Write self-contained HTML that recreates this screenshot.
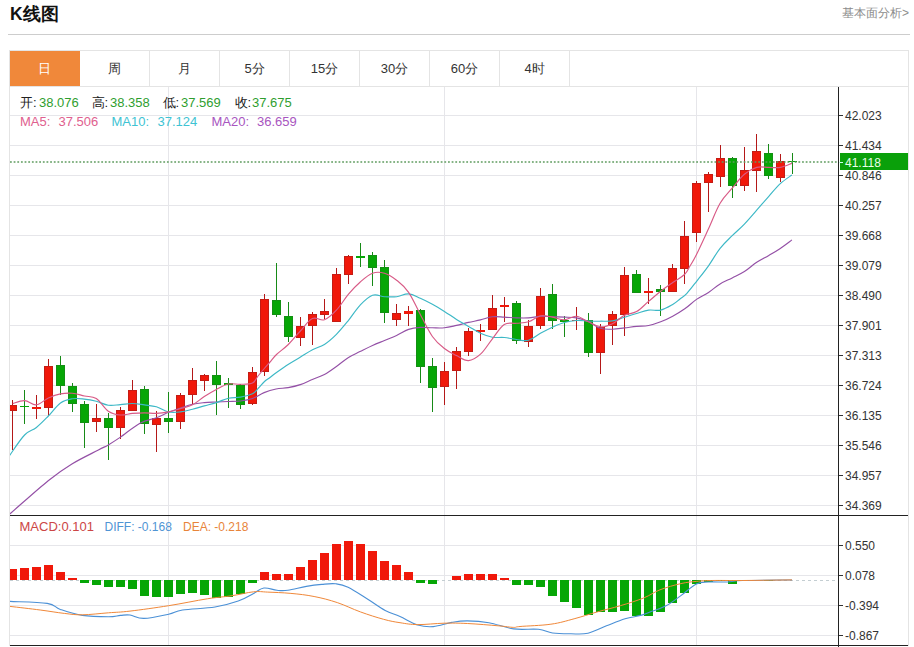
<!DOCTYPE html>
<html><head><meta charset="utf-8"><style>
html,body{margin:0;padding:0;background:#fff;width:914px;height:647px;overflow:hidden;font-family:"Liberation Sans",sans-serif;}
.title{position:absolute;left:10px;top:2px;font-size:17.5px;font-weight:bold;color:#111;line-height:24px;white-space:nowrap;}
.more{position:absolute;left:842px;top:4.5px;font-size:12px;color:#8c8c8c;line-height:16px;white-space:nowrap;}
.hr{position:absolute;left:8px;top:34px;width:902px;height:1px;background:#cdcdcd;}
.tabs{position:absolute;left:9px;top:50px;width:900px;height:36px;border-top:1px solid #e4e4e4;border-left:1px solid #e4e4e4;border-right:1px solid #e4e4e4;box-sizing:border-box;}
.tab{position:absolute;top:0;height:35px;width:70px;text-align:center;line-height:35px;font-size:13px;color:#333;border-right:1px solid #e4e4e4;box-sizing:border-box;}
.tab.on{background:#f0883a;color:#fff;border-right:1px solid #f0883a;}
svg{position:absolute;left:0;top:0;}
.g{stroke:#e6e6ea;stroke-width:1;}
.ax{font-size:12px;fill:#333;font-family:"Liberation Sans",sans-serif;}
.t{position:absolute;line-height:16px;white-space:nowrap;}
</style></head><body>
<div class="title">K线图</div>
<div class="more">基本面分析&gt;</div>
<div class="hr"></div>
<div class="tabs"><div class="tab on" style="left:0px">日</div><div class="tab" style="left:70px">周</div><div class="tab" style="left:140px">月</div><div class="tab" style="left:210px">5分</div><div class="tab" style="left:280px">15分</div><div class="tab" style="left:350px">30分</div><div class="tab" style="left:420px">60分</div><div class="tab" style="left:490px">4时</div></div>
<svg width="914" height="647" viewBox="0 0 914 647" shape-rendering="crispEdges">
<rect x="9.5" y="86.5" width="899" height="559" fill="none" stroke="#e4e4e4"/>
<g clip-path="url(#clip)">
<clipPath id="clip"><rect x="10" y="87" width="828" height="558"/></clipPath>
<line x1="10" y1="115.5" x2="838" y2="115.5" class="g"/>
<line x1="10" y1="145.5" x2="838" y2="145.5" class="g"/>
<line x1="10" y1="175.5" x2="838" y2="175.5" class="g"/>
<line x1="10" y1="205.5" x2="838" y2="205.5" class="g"/>
<line x1="10" y1="235.5" x2="838" y2="235.5" class="g"/>
<line x1="10" y1="265.5" x2="838" y2="265.5" class="g"/>
<line x1="10" y1="295.5" x2="838" y2="295.5" class="g"/>
<line x1="10" y1="325.5" x2="838" y2="325.5" class="g"/>
<line x1="10" y1="355.5" x2="838" y2="355.5" class="g"/>
<line x1="10" y1="385.5" x2="838" y2="385.5" class="g"/>
<line x1="10" y1="415.5" x2="838" y2="415.5" class="g"/>
<line x1="10" y1="445.5" x2="838" y2="445.5" class="g"/>
<line x1="10" y1="475.5" x2="838" y2="475.5" class="g"/>
<line x1="10" y1="505.5" x2="838" y2="505.5" class="g"/>
<line x1="10" y1="545.5" x2="838" y2="545.5" class="g"/>
<line x1="10" y1="575.5" x2="838" y2="575.5" class="g"/>
<line x1="10" y1="605.5" x2="838" y2="605.5" class="g"/>
<line x1="10" y1="635.5" x2="838" y2="635.5" class="g"/>
<line x1="168.5" y1="87" x2="168.5" y2="515" class="g"/>
<line x1="168.5" y1="516" x2="168.5" y2="645" class="g"/>
<line x1="444.5" y1="87" x2="444.5" y2="515" class="g"/>
<line x1="444.5" y1="516" x2="444.5" y2="645" class="g"/>
<line x1="696.5" y1="87" x2="696.5" y2="515" class="g"/>
<line x1="696.5" y1="516" x2="696.5" y2="645" class="g"/>
<rect x="12.0" y="400.2" width="1" height="50.1" fill="#b41818"/>
<rect x="8.5" y="405.3" width="8" height="5.5" fill="#f0180a" stroke="#c41c14" stroke-width="1"/>
<rect x="24.0" y="390.4" width="1" height="33.8" fill="#178a17"/>
<rect x="20.0" y="405.7" width="9" height="1.7" fill="#06a606"/>
<rect x="36.0" y="395.3" width="1" height="23.4" fill="#b41818"/>
<rect x="32.0" y="407.1" width="9" height="1.7" fill="#f0180a"/>
<rect x="48.0" y="359.2" width="1" height="56.3" fill="#b41818"/>
<rect x="44.5" y="366.5" width="8" height="41.4" fill="#f0180a" stroke="#c41c14" stroke-width="1"/>
<rect x="60.0" y="356.0" width="1" height="39.3" fill="#178a17"/>
<rect x="56.5" y="365.6" width="8" height="19.8" fill="#06a606" stroke="#139013" stroke-width="1"/>
<rect x="72.0" y="382.8" width="1" height="29.2" fill="#178a17"/>
<rect x="68.5" y="386.1" width="8" height="17.1" fill="#06a606" stroke="#139013" stroke-width="1"/>
<rect x="84.0" y="401.0" width="1" height="46.5" fill="#178a17"/>
<rect x="80.5" y="404.5" width="8" height="18.4" fill="#06a606" stroke="#139013" stroke-width="1"/>
<rect x="96.0" y="404.3" width="1" height="27.7" fill="#b41818"/>
<rect x="92.5" y="418.3" width="8" height="3.6" fill="#f0180a" stroke="#c41c14" stroke-width="1"/>
<rect x="108.0" y="413.0" width="1" height="46.5" fill="#178a17"/>
<rect x="104.5" y="418.5" width="8" height="9.4" fill="#06a606" stroke="#139013" stroke-width="1"/>
<rect x="120.0" y="406.6" width="1" height="32.4" fill="#b41818"/>
<rect x="116.5" y="410.4" width="8" height="17.0" fill="#f0180a" stroke="#c41c14" stroke-width="1"/>
<rect x="132.0" y="380.2" width="1" height="30.4" fill="#b41818"/>
<rect x="128.5" y="390.4" width="8" height="19.7" fill="#f0180a" stroke="#c41c14" stroke-width="1"/>
<rect x="144.0" y="386.2" width="1" height="47.3" fill="#178a17"/>
<rect x="140.5" y="389.5" width="8" height="33.6" fill="#06a606" stroke="#139013" stroke-width="1"/>
<rect x="156.0" y="411.2" width="1" height="40.8" fill="#b41818"/>
<rect x="152.5" y="418.5" width="8" height="5.7" fill="#f0180a" stroke="#c41c14" stroke-width="1"/>
<rect x="168.0" y="392.3" width="1" height="40.2" fill="#178a17"/>
<rect x="164.5" y="418.5" width="8" height="3.3" fill="#06a606" stroke="#139013" stroke-width="1"/>
<rect x="180.0" y="393.2" width="1" height="36.2" fill="#b41818"/>
<rect x="176.5" y="395.5" width="8" height="26.0" fill="#f0180a" stroke="#c41c14" stroke-width="1"/>
<rect x="192.0" y="368.0" width="1" height="35.8" fill="#b41818"/>
<rect x="188.5" y="380.7" width="8" height="14.2" fill="#f0180a" stroke="#c41c14" stroke-width="1"/>
<rect x="204.0" y="374.1" width="1" height="16.7" fill="#b41818"/>
<rect x="200.5" y="375.9" width="8" height="4.8" fill="#f0180a" stroke="#c41c14" stroke-width="1"/>
<rect x="216.0" y="361.0" width="1" height="54.0" fill="#178a17"/>
<rect x="212.5" y="375.5" width="8" height="8.7" fill="#06a606" stroke="#139013" stroke-width="1"/>
<rect x="228.0" y="377.8" width="1" height="29.7" fill="#178a17"/>
<rect x="224.0" y="383.0" width="9" height="2.2" fill="#06a606"/>
<rect x="240.0" y="384.0" width="1" height="24.6" fill="#178a17"/>
<rect x="236.5" y="385.9" width="8" height="18.3" fill="#06a606" stroke="#139013" stroke-width="1"/>
<rect x="252.0" y="366.5" width="1" height="38.6" fill="#b41818"/>
<rect x="248.5" y="372.2" width="8" height="31.0" fill="#f0180a" stroke="#c41c14" stroke-width="1"/>
<rect x="264.0" y="293.8" width="1" height="82.1" fill="#b41818"/>
<rect x="260.5" y="299.5" width="8" height="71.5" fill="#f0180a" stroke="#c41c14" stroke-width="1"/>
<rect x="276.0" y="263.2" width="1" height="53.3" fill="#178a17"/>
<rect x="272.5" y="300.6" width="8" height="14.3" fill="#06a606" stroke="#139013" stroke-width="1"/>
<rect x="288.0" y="301.8" width="1" height="40.0" fill="#178a17"/>
<rect x="284.5" y="316.5" width="8" height="20.2" fill="#06a606" stroke="#139013" stroke-width="1"/>
<rect x="300.0" y="316.5" width="1" height="29.5" fill="#b41818"/>
<rect x="296.5" y="326.7" width="8" height="10.5" fill="#f0180a" stroke="#c41c14" stroke-width="1"/>
<rect x="312.0" y="312.4" width="1" height="32.2" fill="#b41818"/>
<rect x="308.5" y="314.9" width="8" height="10.4" fill="#f0180a" stroke="#c41c14" stroke-width="1"/>
<rect x="324.0" y="298.7" width="1" height="19.8" fill="#b41818"/>
<rect x="320.5" y="311.3" width="8" height="3.6" fill="#f0180a" stroke="#c41c14" stroke-width="1"/>
<rect x="336.0" y="267.5" width="1" height="54.9" fill="#b41818"/>
<rect x="332.5" y="274.5" width="8" height="47.4" fill="#f0180a" stroke="#c41c14" stroke-width="1"/>
<rect x="348.0" y="254.5" width="1" height="29.0" fill="#b41818"/>
<rect x="344.5" y="256.1" width="8" height="18.4" fill="#f0180a" stroke="#c41c14" stroke-width="1"/>
<rect x="360.0" y="243.3" width="1" height="24.0" fill="#178a17"/>
<rect x="356.0" y="255.6" width="9" height="1.9" fill="#06a606"/>
<rect x="372.0" y="252.4" width="1" height="33.1" fill="#178a17"/>
<rect x="368.5" y="255.7" width="8" height="11.9" fill="#06a606" stroke="#139013" stroke-width="1"/>
<rect x="384.0" y="260.0" width="1" height="63.0" fill="#178a17"/>
<rect x="380.5" y="267.5" width="8" height="44.6" fill="#06a606" stroke="#139013" stroke-width="1"/>
<rect x="396.0" y="304.3" width="1" height="21.5" fill="#b41818"/>
<rect x="392.5" y="313.8" width="8" height="5.3" fill="#f0180a" stroke="#c41c14" stroke-width="1"/>
<rect x="408.0" y="306.3" width="1" height="19.4" fill="#b41818"/>
<rect x="404.0" y="311.1" width="9" height="2.5" fill="#f0180a"/>
<rect x="420.0" y="308.6" width="1" height="74.2" fill="#178a17"/>
<rect x="416.5" y="310.5" width="8" height="55.6" fill="#06a606" stroke="#139013" stroke-width="1"/>
<rect x="432.0" y="358.2" width="1" height="53.8" fill="#178a17"/>
<rect x="428.5" y="366.6" width="8" height="20.6" fill="#06a606" stroke="#139013" stroke-width="1"/>
<rect x="444.0" y="362.4" width="1" height="42.2" fill="#b41818"/>
<rect x="440.5" y="371.5" width="8" height="15.0" fill="#f0180a" stroke="#c41c14" stroke-width="1"/>
<rect x="456.0" y="347.3" width="1" height="41.3" fill="#b41818"/>
<rect x="452.5" y="351.7" width="8" height="18.4" fill="#f0180a" stroke="#c41c14" stroke-width="1"/>
<rect x="468.0" y="327.8" width="1" height="27.8" fill="#b41818"/>
<rect x="464.5" y="331.8" width="8" height="20.0" fill="#f0180a" stroke="#c41c14" stroke-width="1"/>
<rect x="480.0" y="324.2" width="1" height="16.3" fill="#b41818"/>
<rect x="476.0" y="329.8" width="9" height="2.0" fill="#f0180a"/>
<rect x="492.0" y="295.0" width="1" height="34.7" fill="#b41818"/>
<rect x="488.5" y="308.3" width="8" height="20.9" fill="#f0180a" stroke="#c41c14" stroke-width="1"/>
<rect x="504.0" y="296.7" width="1" height="24.8" fill="#b41818"/>
<rect x="500.0" y="304.8" width="9" height="2.3" fill="#f0180a"/>
<rect x="516.0" y="300.9" width="1" height="42.8" fill="#178a17"/>
<rect x="512.5" y="303.2" width="8" height="37.5" fill="#06a606" stroke="#139013" stroke-width="1"/>
<rect x="528.0" y="320.3" width="1" height="26.2" fill="#b41818"/>
<rect x="524.5" y="326.4" width="8" height="15.0" fill="#f0180a" stroke="#c41c14" stroke-width="1"/>
<rect x="540.0" y="288.3" width="1" height="40.4" fill="#b41818"/>
<rect x="536.5" y="296.2" width="8" height="29.6" fill="#f0180a" stroke="#c41c14" stroke-width="1"/>
<rect x="552.0" y="283.5" width="1" height="45.2" fill="#178a17"/>
<rect x="548.5" y="294.4" width="8" height="26.1" fill="#06a606" stroke="#139013" stroke-width="1"/>
<rect x="564.0" y="316.2" width="1" height="20.6" fill="#178a17"/>
<rect x="560.0" y="320.0" width="9" height="1.7" fill="#06a606"/>
<rect x="576.0" y="307.1" width="1" height="23.3" fill="#b41818"/>
<rect x="572.0" y="319.7" width="9" height="1.5" fill="#f0180a"/>
<rect x="588.0" y="313.4" width="1" height="43.8" fill="#178a17"/>
<rect x="584.5" y="320.8" width="8" height="31.3" fill="#06a606" stroke="#139013" stroke-width="1"/>
<rect x="600.0" y="324.1" width="1" height="49.4" fill="#b41818"/>
<rect x="596.5" y="327.4" width="8" height="25.0" fill="#f0180a" stroke="#c41c14" stroke-width="1"/>
<rect x="612.0" y="310.6" width="1" height="33.9" fill="#b41818"/>
<rect x="608.5" y="314.6" width="8" height="10.4" fill="#f0180a" stroke="#c41c14" stroke-width="1"/>
<rect x="624.0" y="267.2" width="1" height="68.5" fill="#b41818"/>
<rect x="620.5" y="275.7" width="8" height="38.9" fill="#f0180a" stroke="#c41c14" stroke-width="1"/>
<rect x="636.0" y="270.0" width="1" height="22.8" fill="#178a17"/>
<rect x="632.5" y="274.3" width="8" height="18.0" fill="#06a606" stroke="#139013" stroke-width="1"/>
<rect x="648.0" y="278.0" width="1" height="25.7" fill="#b41818"/>
<rect x="644.0" y="290.5" width="9" height="2.8" fill="#f0180a"/>
<rect x="660.0" y="285.3" width="1" height="30.9" fill="#178a17"/>
<rect x="656.5" y="289.3" width="8" height="2.1" fill="#06a606" stroke="#139013" stroke-width="1"/>
<rect x="672.0" y="264.0" width="1" height="27.9" fill="#b41818"/>
<rect x="668.5" y="268.7" width="8" height="22.7" fill="#f0180a" stroke="#c41c14" stroke-width="1"/>
<rect x="684.0" y="220.9" width="1" height="63.3" fill="#b41818"/>
<rect x="680.5" y="236.0" width="8" height="32.8" fill="#f0180a" stroke="#c41c14" stroke-width="1"/>
<rect x="696.0" y="181.3" width="1" height="61.1" fill="#b41818"/>
<rect x="692.5" y="183.7" width="8" height="48.5" fill="#f0180a" stroke="#c41c14" stroke-width="1"/>
<rect x="708.0" y="172.0" width="1" height="40.0" fill="#b41818"/>
<rect x="704.5" y="174.9" width="8" height="8.0" fill="#f0180a" stroke="#c41c14" stroke-width="1"/>
<rect x="720.0" y="144.5" width="1" height="42.4" fill="#b41818"/>
<rect x="716.5" y="158.6" width="8" height="17.7" fill="#f0180a" stroke="#c41c14" stroke-width="1"/>
<rect x="732.0" y="157.0" width="1" height="41.4" fill="#178a17"/>
<rect x="728.5" y="158.9" width="8" height="26.4" fill="#06a606" stroke="#139013" stroke-width="1"/>
<rect x="744.0" y="147.0" width="1" height="44.1" fill="#b41818"/>
<rect x="740.5" y="170.3" width="8" height="14.7" fill="#f0180a" stroke="#c41c14" stroke-width="1"/>
<rect x="756.0" y="134.0" width="1" height="57.8" fill="#b41818"/>
<rect x="752.5" y="151.3" width="8" height="18.8" fill="#f0180a" stroke="#c41c14" stroke-width="1"/>
<rect x="768.0" y="143.8" width="1" height="35.2" fill="#178a17"/>
<rect x="764.5" y="153.0" width="8" height="22.3" fill="#06a606" stroke="#139013" stroke-width="1"/>
<rect x="780.0" y="153.5" width="1" height="28.8" fill="#b41818"/>
<rect x="776.5" y="161.0" width="8" height="16.4" fill="#f0180a" stroke="#c41c14" stroke-width="1"/>
<rect x="792.0" y="153.1" width="1" height="20.6" fill="#178a17"/>
<rect x="788.0" y="160.9" width="9" height="1.5" fill="#06a606"/>
<path d="M0.00,522.00 C1.80,520.52 1.32,521.23 10.00,513.80 C18.68,506.37 37.06,489.66 48.20,480.70 C59.34,471.74 62.86,469.53 71.90,464.00 C80.94,458.47 91.85,453.44 98.40,450.00 C104.95,446.56 104.39,447.17 108.30,444.90 C112.21,442.63 114.39,441.31 120.10,437.40 C125.81,433.49 133.47,426.75 140.00,423.20 C146.53,419.65 151.27,419.66 156.40,417.70 C161.53,415.74 164.16,414.05 168.50,412.30 C172.84,410.55 176.18,409.46 180.50,408.00 C184.82,406.54 188.22,405.17 192.50,404.20 C196.78,403.23 200.02,403.00 204.30,402.60 C208.58,402.20 211.96,402.20 216.30,402.00 C220.64,401.80 224.06,401.68 228.40,401.50 C232.74,401.32 236.06,401.54 240.40,401.00 C244.74,400.46 248.23,400.01 252.50,398.50 C256.77,396.99 259.85,394.31 264.10,392.60 C268.35,390.89 271.76,389.90 276.10,389.00 C280.44,388.10 283.84,388.39 288.20,387.60 C292.56,386.81 295.96,386.06 300.30,384.60 C304.64,383.14 307.96,381.32 312.30,379.50 C316.64,377.68 320.06,376.84 324.40,374.50 C328.74,372.16 332.06,369.58 336.40,366.50 C340.74,363.42 344.25,360.08 348.50,357.40 C352.75,354.72 355.68,353.74 360.00,351.60 C364.32,349.46 368.09,347.50 372.50,345.50 C376.91,343.50 380.16,342.30 384.50,340.50 C388.84,338.70 392.26,337.50 396.60,335.50 C400.94,333.50 404.33,330.86 408.60,329.40 C412.87,327.94 416.02,327.69 420.30,327.40 C424.58,327.11 428.06,327.73 432.40,327.80 C436.74,327.87 440.06,328.23 444.40,327.80 C448.74,327.37 452.16,326.37 456.50,325.40 C460.84,324.43 464.18,323.39 468.50,322.40 C472.82,321.41 476.20,320.91 480.50,319.90 C484.80,318.89 488.12,317.30 492.40,316.80 C496.68,316.30 499.98,316.90 504.30,317.10 C508.62,317.30 512.04,317.76 516.40,317.90 C520.76,318.04 524.18,318.19 528.50,317.90 C532.82,317.61 536.10,316.50 540.40,316.30 C544.70,316.10 548.10,316.66 552.40,316.80 C556.70,316.94 559.98,316.90 564.30,317.10 C568.62,317.30 572.08,317.11 576.40,317.90 C580.72,318.69 583.98,319.63 588.30,321.50 C592.62,323.37 596.04,326.91 600.40,328.30 C604.76,329.69 608.16,329.27 612.50,329.20 C616.84,329.13 620.16,328.40 624.50,327.90 C628.84,327.40 632.26,326.83 636.60,326.40 C640.94,325.97 644.26,326.33 648.60,325.50 C652.94,324.67 656.36,323.47 660.70,321.80 C665.04,320.13 668.36,318.54 672.70,316.20 C677.04,313.86 680.52,311.82 684.80,308.80 C689.08,305.78 692.23,302.33 696.50,299.40 C700.77,296.47 704.25,295.29 708.50,292.50 C712.75,289.71 715.83,286.53 720.10,283.90 C724.37,281.27 727.83,280.11 732.20,277.90 C736.57,275.69 739.99,274.41 744.40,271.60 C748.81,268.79 752.31,265.22 756.70,262.30 C761.09,259.38 764.55,257.90 768.80,255.40 C773.05,252.90 776.14,251.19 780.30,248.40 C784.46,245.61 789.81,241.43 791.90,239.90" fill="none" stroke="#9450a6" stroke-width="1.15" shape-rendering="geometricPrecision"/>
<path d="M0.50,470.00 C2.21,467.30 5.66,461.30 10.00,455.00 C14.34,448.70 19.85,439.95 24.60,435.00 C29.35,430.05 32.12,430.92 36.40,427.50 C40.68,424.08 44.06,420.41 48.40,416.00 C52.74,411.59 56.20,406.10 60.50,403.00 C64.80,399.90 68.03,399.50 72.30,398.80 C76.57,398.10 79.88,398.65 84.20,399.10 C88.52,399.55 91.96,400.20 96.30,401.30 C100.64,402.40 103.98,404.61 108.30,405.20 C112.62,405.79 115.96,404.91 120.30,404.60 C124.64,404.29 128.06,403.45 132.40,403.50 C136.74,403.55 140.08,404.31 144.40,404.90 C148.72,405.49 152.06,405.52 156.40,406.80 C160.74,408.08 164.16,411.08 168.50,412.00 C172.84,412.92 176.18,412.40 180.50,411.90 C184.82,411.40 188.22,410.28 192.50,409.20 C196.78,408.12 200.02,407.09 204.30,405.90 C208.58,404.71 211.96,403.99 216.30,402.60 C220.64,401.21 224.06,399.19 228.40,398.20 C232.74,397.21 236.06,397.89 240.40,397.10 C244.74,396.31 249.24,395.44 252.50,393.80 C255.76,392.16 256.34,390.21 258.50,388.00 C260.66,385.79 262.43,383.39 264.50,381.50 C266.57,379.61 267.84,379.12 270.00,377.50 C272.16,375.88 273.17,374.89 276.50,372.50 C279.83,370.11 284.18,366.99 288.50,364.20 C292.82,361.41 296.18,359.61 300.50,357.00 C304.82,354.39 308.20,351.97 312.50,349.70 C316.80,347.43 320.10,347.17 324.40,344.40 C328.70,341.63 332.06,338.64 336.40,334.30 C340.74,329.96 344.25,325.52 348.50,320.30 C352.75,315.08 355.68,309.80 360.00,305.30 C364.32,300.80 368.09,296.85 372.50,295.30 C376.91,293.75 380.16,296.45 384.50,296.70 C388.84,296.95 392.26,297.20 396.60,296.70 C400.94,296.20 404.33,293.61 408.60,293.90 C412.87,294.19 416.02,296.43 420.30,298.30 C424.58,300.17 428.06,301.94 432.40,304.30 C436.74,306.66 440.06,308.68 444.40,311.40 C448.74,314.12 452.16,316.70 456.50,319.40 C460.84,322.10 464.18,323.90 468.50,326.40 C472.82,328.90 476.20,331.36 480.50,333.30 C484.80,335.24 488.12,336.44 492.40,337.20 C496.68,337.96 499.98,337.09 504.30,337.50 C508.62,337.91 512.04,339.00 516.40,339.50 C520.76,340.00 524.18,341.42 528.50,340.30 C532.82,339.18 536.10,335.66 540.40,333.30 C544.70,330.94 548.10,329.14 552.40,327.20 C556.70,325.26 559.98,323.71 564.30,322.50 C568.62,321.29 572.08,320.77 576.40,320.50 C580.72,320.23 583.98,320.87 588.30,321.00 C592.62,321.13 596.04,321.22 600.40,321.20 C604.76,321.18 608.16,321.62 612.50,320.90 C616.84,320.18 620.16,318.53 624.50,317.20 C628.84,315.87 632.26,314.78 636.60,313.50 C640.94,312.22 644.26,310.71 648.60,310.10 C652.94,309.49 656.36,311.11 660.70,310.10 C665.04,309.09 669.23,306.50 672.70,304.50 C676.17,302.50 677.44,301.02 680.00,299.00 C682.56,296.98 683.84,296.58 686.90,293.30 C689.96,290.02 693.11,285.75 697.00,280.80 C700.89,275.85 704.34,271.63 708.50,265.80 C712.66,259.97 715.83,253.82 720.10,248.40 C724.37,242.98 727.83,240.07 732.20,235.70 C736.57,231.33 739.99,228.69 744.40,224.10 C748.81,219.51 752.31,215.20 756.70,210.20 C761.09,205.20 764.55,201.09 768.80,196.30 C773.05,191.51 776.14,187.43 780.30,183.60 C784.46,179.77 789.81,176.55 791.90,175.00" fill="none" stroke="#3cb8c6" stroke-width="1.15" shape-rendering="geometricPrecision"/>
<path d="M12.80,403.60 C14.92,403.06 20.35,400.38 24.60,400.60 C28.85,400.82 32.12,405.27 36.40,404.80 C40.68,404.33 44.06,399.96 48.40,398.00 C52.74,396.04 56.20,394.76 60.50,393.90 C64.80,393.04 67.98,392.82 72.30,393.20 C76.62,393.58 80.18,395.03 84.50,396.00 C88.82,396.97 92.02,395.86 96.30,398.60 C100.58,401.34 103.98,408.25 108.30,411.20 C112.62,414.15 115.96,414.60 120.30,415.00 C124.64,415.40 128.06,413.80 132.40,413.40 C136.74,413.00 140.08,412.80 144.40,412.80 C148.72,412.80 152.06,413.56 156.40,413.40 C160.74,413.24 164.16,412.76 168.50,411.90 C172.84,411.04 176.18,409.88 180.50,408.60 C184.82,407.32 188.22,406.96 192.50,404.80 C196.78,402.64 200.02,399.35 204.30,396.60 C208.58,393.85 211.96,391.77 216.30,389.50 C220.64,387.23 224.06,384.94 228.40,384.00 C232.74,383.06 236.06,384.48 240.40,384.30 C244.74,384.12 249.33,384.49 252.50,383.00 C255.67,381.51 255.88,378.61 258.00,376.00 C260.12,373.39 262.14,371.02 264.30,368.50 C266.46,365.98 267.80,364.52 270.00,362.00 C272.20,359.48 273.21,357.65 276.50,354.50 C279.79,351.35 284.00,348.73 288.30,344.50 C292.60,340.27 296.06,335.68 300.40,331.00 C304.74,326.32 308.08,320.52 312.40,318.50 C316.72,316.48 320.08,321.29 324.40,319.80 C328.72,318.31 332.06,314.83 336.40,310.20 C340.74,305.57 344.25,299.14 348.50,294.10 C352.75,289.06 355.68,285.96 360.00,282.20 C364.32,278.44 368.09,274.82 372.50,273.20 C376.91,271.58 380.16,271.94 384.50,273.20 C388.84,274.46 392.26,276.76 396.60,280.20 C400.94,283.64 404.33,286.14 408.60,292.30 C412.87,298.46 416.02,306.44 420.30,314.40 C424.58,322.36 428.06,330.36 432.40,336.50 C436.74,342.64 440.06,345.06 444.40,348.50 C448.74,351.94 452.16,353.42 456.50,355.60 C460.84,357.78 464.18,360.85 468.50,360.60 C472.82,360.35 476.20,358.12 480.50,354.20 C484.80,350.28 488.12,344.15 492.40,338.80 C496.68,333.45 499.98,327.29 504.30,324.50 C508.62,321.71 512.04,323.79 516.40,323.30 C520.76,322.81 524.18,323.13 528.50,321.80 C532.82,320.47 536.10,316.75 540.40,315.90 C544.70,315.05 548.10,316.38 552.40,317.10 C556.70,317.82 559.98,320.04 564.30,319.90 C568.62,319.76 572.08,315.96 576.40,316.30 C580.72,316.64 583.98,319.91 588.30,321.80 C592.62,323.69 596.04,326.46 600.40,326.80 C604.76,327.14 608.16,325.77 612.50,323.70 C616.84,321.63 620.16,317.48 624.50,315.30 C628.84,313.12 632.26,314.10 636.60,311.60 C640.94,309.10 644.26,305.07 648.60,301.40 C652.94,297.73 656.36,294.60 660.70,291.20 C665.04,287.80 668.42,285.51 672.70,282.50 C676.98,279.49 681.39,277.47 684.50,274.50 C687.61,271.53 687.84,269.60 690.00,266.00 C692.16,262.40 693.17,261.20 696.50,254.50 C699.83,247.80 704.25,238.02 708.50,228.80 C712.75,219.58 715.83,210.61 720.10,203.30 C724.37,195.99 727.83,193.42 732.20,188.20 C736.57,182.98 739.99,178.04 744.40,174.30 C748.81,170.56 752.31,168.64 756.70,167.40 C761.09,166.16 764.55,167.40 768.80,167.40 C773.05,167.40 776.14,168.12 780.30,167.40 C784.46,166.68 789.81,164.12 791.90,163.40" fill="none" stroke="#d85a86" stroke-width="1.15" shape-rendering="geometricPrecision"/>
<line x1="10" y1="162" x2="838" y2="162" stroke="#5f9c5f" stroke-width="1.4" stroke-dasharray="1.8,1.85" shape-rendering="geometricPrecision"/>
<line x1="10" y1="580" x2="838" y2="580" stroke="#c4ced2" stroke-width="1" stroke-dasharray="3,3"/>
<rect x="8.0" y="569.2" width="9" height="10.8" fill="#f0180a"/>
<rect x="20.0" y="568.2" width="9" height="11.8" fill="#f0180a"/>
<rect x="32.0" y="567.2" width="9" height="12.8" fill="#f0180a"/>
<rect x="44.0" y="564.6" width="9" height="15.4" fill="#f0180a"/>
<rect x="56.0" y="572.3" width="9" height="7.7" fill="#f0180a"/>
<rect x="68.0" y="578.3" width="9" height="1.7" fill="#f0180a"/>
<rect x="80.0" y="580.0" width="9" height="3.3" fill="#06a606"/>
<rect x="92.0" y="580.0" width="9" height="4.7" fill="#06a606"/>
<rect x="104.0" y="580.0" width="9" height="6.9" fill="#06a606"/>
<rect x="116.0" y="580.0" width="9" height="6.7" fill="#06a606"/>
<rect x="128.0" y="580.0" width="9" height="8.7" fill="#06a606"/>
<rect x="140.0" y="580.0" width="9" height="16.1" fill="#06a606"/>
<rect x="152.0" y="580.0" width="9" height="16.8" fill="#06a606"/>
<rect x="164.0" y="580.0" width="9" height="16.8" fill="#06a606"/>
<rect x="176.0" y="580.0" width="9" height="13.7" fill="#06a606"/>
<rect x="188.0" y="580.0" width="9" height="13.4" fill="#06a606"/>
<rect x="200.0" y="580.0" width="9" height="15.2" fill="#06a606"/>
<rect x="212.0" y="580.0" width="9" height="17.7" fill="#06a606"/>
<rect x="224.0" y="580.0" width="9" height="16.8" fill="#06a606"/>
<rect x="236.0" y="580.0" width="9" height="13.7" fill="#06a606"/>
<rect x="248.0" y="580.0" width="9" height="2.5" fill="#06a606"/>
<rect x="260.0" y="572.0" width="9" height="8.0" fill="#f0180a"/>
<rect x="272.0" y="574.4" width="9" height="5.6" fill="#f0180a"/>
<rect x="284.0" y="573.7" width="9" height="6.3" fill="#f0180a"/>
<rect x="296.0" y="567.1" width="9" height="12.9" fill="#f0180a"/>
<rect x="308.0" y="559.8" width="9" height="20.2" fill="#f0180a"/>
<rect x="320.0" y="552.7" width="9" height="27.3" fill="#f0180a"/>
<rect x="332.0" y="543.9" width="9" height="36.1" fill="#f0180a"/>
<rect x="344.0" y="541.3" width="9" height="38.7" fill="#f0180a"/>
<rect x="356.0" y="544.4" width="9" height="35.6" fill="#f0180a"/>
<rect x="368.0" y="551.3" width="9" height="28.7" fill="#f0180a"/>
<rect x="380.0" y="560.9" width="9" height="19.1" fill="#f0180a"/>
<rect x="392.0" y="565.2" width="9" height="14.8" fill="#f0180a"/>
<rect x="404.0" y="572.0" width="9" height="8.0" fill="#f0180a"/>
<rect x="416.0" y="580.0" width="9" height="2.5" fill="#06a606"/>
<rect x="428.0" y="580.0" width="9" height="4.1" fill="#06a606"/>
<rect x="452.0" y="576.1" width="9" height="3.9" fill="#f0180a"/>
<rect x="464.0" y="573.6" width="9" height="6.4" fill="#f0180a"/>
<rect x="476.0" y="573.9" width="9" height="6.1" fill="#f0180a"/>
<rect x="488.0" y="573.6" width="9" height="6.4" fill="#f0180a"/>
<rect x="500.0" y="577.9" width="9" height="2.1" fill="#f0180a"/>
<rect x="512.0" y="580.0" width="9" height="4.9" fill="#06a606"/>
<rect x="524.0" y="580.0" width="9" height="4.8" fill="#06a606"/>
<rect x="536.0" y="580.0" width="9" height="7.1" fill="#06a606"/>
<rect x="548.0" y="580.0" width="9" height="16.4" fill="#06a606"/>
<rect x="560.0" y="580.0" width="9" height="22.1" fill="#06a606"/>
<rect x="572.0" y="580.0" width="9" height="28.0" fill="#06a606"/>
<rect x="584.0" y="580.0" width="9" height="34.5" fill="#06a606"/>
<rect x="596.0" y="580.0" width="9" height="32.3" fill="#06a606"/>
<rect x="608.0" y="580.0" width="9" height="31.9" fill="#06a606"/>
<rect x="620.0" y="580.0" width="9" height="31.1" fill="#06a606"/>
<rect x="632.0" y="580.0" width="9" height="35.7" fill="#06a606"/>
<rect x="644.0" y="580.0" width="9" height="35.7" fill="#06a606"/>
<rect x="656.0" y="580.0" width="9" height="31.9" fill="#06a606"/>
<rect x="668.0" y="580.0" width="9" height="23.4" fill="#06a606"/>
<rect x="680.0" y="580.0" width="9" height="13.3" fill="#06a606"/>
<rect x="692.0" y="580.0" width="9" height="4.0" fill="#06a606"/>
<rect x="704.0" y="580.0" width="9" height="1.7" fill="#06a606"/>
<rect x="716.0" y="580.0" width="9" height="1.4" fill="#06a606"/>
<rect x="728.0" y="580.0" width="9" height="3.6" fill="#06a606"/>
<rect x="740.0" y="580.0" width="9" height="0.8" fill="#06a606"/>
<rect x="764.0" y="580.0" width="9" height="1.4" fill="#06a606"/>
<path d="M0.00,601.00 C1.80,601.07 1.50,600.97 10.00,601.40 C18.50,601.83 38.15,601.96 47.20,603.40 C56.25,604.84 53.98,607.24 60.30,609.40 C66.62,611.56 73.62,614.07 82.30,615.40 C90.98,616.73 101.62,616.80 108.50,616.80 C115.38,616.80 116.63,615.72 120.50,615.40 C124.37,615.08 125.79,614.46 130.00,615.00 C134.21,615.54 136.95,618.54 143.90,618.40 C150.85,618.26 161.65,615.71 168.60,614.20 C175.55,612.69 174.15,611.30 182.50,610.00 C190.85,608.70 204.97,608.60 215.00,607.00 C225.03,605.40 231.25,603.55 238.20,601.10 C245.15,598.65 248.97,595.76 253.60,593.40 C258.23,591.04 259.69,588.56 263.90,588.00 C268.11,587.44 272.70,589.89 277.00,590.30 C281.30,590.71 282.51,591.00 287.80,590.30 C293.09,589.60 300.28,587.46 306.40,586.40 C312.52,585.34 316.53,584.87 321.80,584.40 C327.07,583.93 330.97,583.30 335.70,583.80 C340.43,584.30 342.25,584.37 348.10,587.20 C353.95,590.03 361.52,595.32 368.20,599.50 C374.88,603.68 379.48,607.34 385.20,610.40 C390.92,613.46 394.13,613.87 400.00,616.50 C405.87,619.13 411.81,623.18 417.80,625.00 C423.79,626.82 427.18,627.07 433.30,626.60 C439.42,626.13 445.68,623.43 451.80,622.40 C457.92,621.37 460.62,620.85 467.30,620.90 C473.98,620.95 480.57,621.26 488.90,622.70 C497.23,624.14 504.67,627.71 513.60,628.90 C522.53,630.09 531.50,628.56 538.50,629.30 C545.50,630.04 546.65,632.19 552.50,633.00 C558.35,633.81 564.61,633.76 571.00,633.80 C577.39,633.84 581.61,634.64 588.00,633.20 C594.39,631.76 599.82,628.39 606.50,625.80 C613.18,623.21 618.98,620.67 625.10,618.80 C631.22,616.93 636.02,616.64 640.50,615.40 C644.98,614.16 645.50,613.57 650.00,611.90 C654.50,610.23 659.94,609.03 665.50,606.10 C671.06,603.17 675.34,599.58 680.90,595.60 C686.46,591.62 691.40,586.45 696.40,584.00 C701.40,581.55 703.14,582.36 708.70,582.00 C714.26,581.64 721.18,582.27 727.30,582.00 C733.42,581.73 731.05,580.86 742.70,580.50 C754.35,580.14 783.13,580.09 792.00,580.00" fill="none" stroke="#4b90d6" stroke-width="1.1" shape-rendering="geometricPrecision"/>
<path d="M0.00,605.50 C1.80,605.66 2.76,605.59 10.00,606.40 C17.24,607.21 30.43,608.74 40.20,610.00 C49.97,611.26 56.72,612.54 64.30,613.40 C71.88,614.26 74.34,614.91 82.30,614.80 C90.26,614.69 99.91,613.47 108.50,612.80 C117.09,612.13 119.18,612.38 130.00,611.10 C140.82,609.82 154.69,607.91 168.60,605.70 C182.51,603.49 195.89,600.60 207.30,598.80 C218.71,597.00 223.67,596.96 232.00,595.70 C240.33,594.44 247.17,592.45 253.60,591.80 C260.03,591.15 260.99,591.81 267.70,592.10 C274.41,592.39 282.55,592.61 290.90,593.40 C299.25,594.19 305.75,594.84 314.10,596.50 C322.45,598.16 328.97,599.83 337.30,602.60 C345.63,605.37 352.07,608.89 360.40,611.90 C368.73,614.91 376.47,617.36 383.60,619.30 C390.73,621.24 393.84,621.75 400.00,622.70 C406.16,623.65 409.86,624.51 417.80,624.60 C425.74,624.69 435.19,623.40 444.10,623.20 C453.01,623.00 457.56,623.03 467.30,623.50 C477.04,623.97 489.87,625.10 498.20,625.80 C506.53,626.50 509.68,627.27 513.60,627.40 C517.52,627.53 513.29,627.08 520.00,626.50 C526.71,625.92 541.16,625.59 550.90,624.20 C560.64,622.81 565.75,621.01 574.10,618.80 C582.45,616.59 588.97,614.26 597.30,611.90 C605.63,609.54 612.07,608.20 620.40,605.70 C628.73,603.20 636.47,600.86 643.60,598.00 C650.73,595.14 653.29,592.39 660.00,589.80 C666.71,587.21 674.35,585.11 680.90,583.60 C687.45,582.09 690.84,581.96 696.40,581.40 C701.96,580.84 703.47,580.66 711.80,580.50 C720.13,580.34 728.26,580.61 742.70,580.50 C757.14,580.39 783.13,580.01 792.00,579.90" fill="none" stroke="#f0883a" stroke-width="1" shape-rendering="geometricPrecision"/>
</g>
<line x1="838.5" y1="87" x2="838.5" y2="647" stroke="#222"/>
<line x1="10" y1="515.5" x2="908" y2="515.5" stroke="#222"/>
<line x1="10" y1="645.5" x2="908" y2="645.5" stroke="#222"/>
<line x1="839" y1="115.5" x2="843" y2="115.5" stroke="#333"/>
<text x="845" y="120.0" class="ax">42.023</text>
<line x1="839" y1="145.5" x2="843" y2="145.5" stroke="#333"/>
<text x="845" y="150.0" class="ax">41.434</text>
<line x1="839" y1="175.5" x2="843" y2="175.5" stroke="#333"/>
<text x="845" y="180.0" class="ax">40.846</text>
<line x1="839" y1="205.5" x2="843" y2="205.5" stroke="#333"/>
<text x="845" y="210.0" class="ax">40.257</text>
<line x1="839" y1="235.5" x2="843" y2="235.5" stroke="#333"/>
<text x="845" y="240.0" class="ax">39.668</text>
<line x1="839" y1="265.5" x2="843" y2="265.5" stroke="#333"/>
<text x="845" y="270.0" class="ax">39.079</text>
<line x1="839" y1="295.5" x2="843" y2="295.5" stroke="#333"/>
<text x="845" y="300.0" class="ax">38.490</text>
<line x1="839" y1="325.5" x2="843" y2="325.5" stroke="#333"/>
<text x="845" y="330.0" class="ax">37.901</text>
<line x1="839" y1="355.5" x2="843" y2="355.5" stroke="#333"/>
<text x="845" y="360.0" class="ax">37.313</text>
<line x1="839" y1="385.5" x2="843" y2="385.5" stroke="#333"/>
<text x="845" y="390.0" class="ax">36.724</text>
<line x1="839" y1="415.5" x2="843" y2="415.5" stroke="#333"/>
<text x="845" y="420.0" class="ax">36.135</text>
<line x1="839" y1="445.5" x2="843" y2="445.5" stroke="#333"/>
<text x="845" y="450.0" class="ax">35.546</text>
<line x1="839" y1="475.5" x2="843" y2="475.5" stroke="#333"/>
<text x="845" y="480.0" class="ax">34.957</text>
<line x1="839" y1="505.5" x2="843" y2="505.5" stroke="#333"/>
<text x="845" y="510.0" class="ax">34.369</text>
<line x1="839" y1="545.5" x2="843" y2="545.5" stroke="#333"/>
<text x="845" y="550.0" class="ax">0.550</text>
<line x1="839" y1="575.5" x2="843" y2="575.5" stroke="#333"/>
<text x="845" y="580.0" class="ax">0.078</text>
<line x1="839" y1="605.5" x2="843" y2="605.5" stroke="#333"/>
<text x="845" y="610.0" class="ax">-0.394</text>
<line x1="839" y1="635.5" x2="843" y2="635.5" stroke="#333"/>
<text x="845" y="640.0" class="ax">-0.867</text>
<rect x="840" y="153" width="68" height="17" fill="#0aa00a"/>
<line x1="839" y1="162.5" x2="843" y2="162.5" stroke="#cfe"/>
<text x="845" y="166.5" class="ax" style="fill:#eaffea">41.118</text>
</svg>
<div class="t" style="left:20px;top:95px;color:#222;font-size:13px;">开:</div>
<div class="t" style="left:39px;top:95px;color:#2f9e2f;font-size:13px;">38.076</div>
<div class="t" style="left:91.5px;top:95px;color:#222;font-size:13px;">高:</div>
<div class="t" style="left:110px;top:95px;color:#2f9e2f;font-size:13px;">38.358</div>
<div class="t" style="left:162.5px;top:95px;color:#222;font-size:13px;">低:</div>
<div class="t" style="left:181px;top:95px;color:#2f9e2f;font-size:13px;">37.569</div>
<div class="t" style="left:234.5px;top:95px;color:#222;font-size:13px;">收:</div>
<div class="t" style="left:252px;top:95px;color:#2f9e2f;font-size:13px;">37.675</div>
<div class="t" style="left:20px;top:113.5px;color:#e0608e;font-size:13px;">MA5:</div>
<div class="t" style="left:58.5px;top:113.5px;color:#e0608e;font-size:13px;">37.506</div>
<div class="t" style="left:111.5px;top:113.5px;color:#3ec3d3;font-size:13px;">MA10:</div>
<div class="t" style="left:157.5px;top:113.5px;color:#3ec3d3;font-size:13px;">37.124</div>
<div class="t" style="left:211.5px;top:113.5px;color:#a855c0;font-size:13px;">MA20:</div>
<div class="t" style="left:257px;top:113.5px;color:#a855c0;font-size:13px;">36.659</div>
<div class="t" style="left:19.5px;top:518.5px;color:#cc4646;font-size:13px;">MACD:0.101</div>
<div class="t" style="left:104.5px;top:519.0px;color:#4f94d4;font-size:12px;">DIFF: -0.168</div>
<div class="t" style="left:183px;top:519.0px;color:#e8843a;font-size:12px;">DEA: -0.218</div>
</body></html>
